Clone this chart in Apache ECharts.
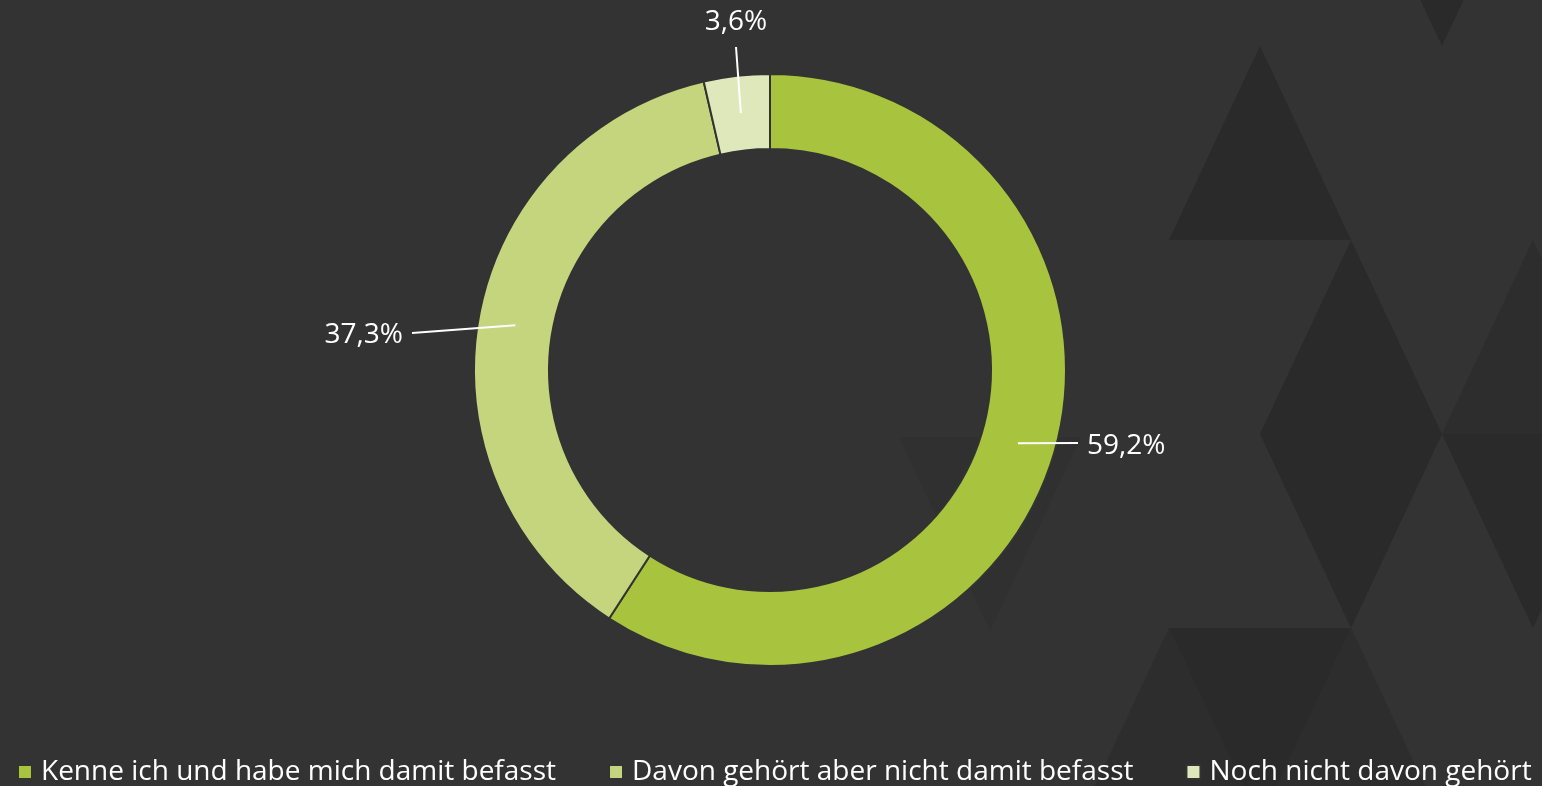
<!DOCTYPE html>
<html>
<head>
<meta charset="utf-8">
<script src="https://cdn.jsdelivr.net/npm/echarts@6/dist/echarts.min.js"></script>
<style>
  html, body { margin: 0; padding: 0; background: #333333; }
  #chart { width: 1542px; height: 786px; }
</style>
</head>
<body>
<div id="chart"></div>
<script>
// data
var categories = [
  "Kenne ich und habe mich damit befasst",
  "Davon gehört aber nicht damit befasst",
  "Noch nicht davon gehört"
];
var shares = [59.2, 37.3, 3.6];
var sliceColors = ["#A8C33D", "#C5D57D", "#DFE8BA"];

// ring geometry
var cx = 770, cy = 370, rIn = 221, rOut = 296;

// where each label sits (layout, not data)
var labelSpots = [
  { x: 1087, y: 446, align: "left",   end: [1078, 443] },
  { x: 403,  y: 335, align: "right",  end: [412, 333] },
  { x: 736,  y: 22,  align: "center", end: [736, 47] }
];

// background triangles (decoration only)
function tri(p, fill) {
  return { type: "polygon", silent: true, z: -10, shape: { points: p }, style: { fill: fill } };
}
var dark = "#292a29", mid = "#2c2d2c", faint = "#303030";

var total = shares.reduce(function (a, b) { return a + b; }, 0);
function midAngle(i) {
  var before = 0;
  for (var k = 0; k < i; k++) before += shares[k];
  return ((before + shares[i] / 2) / total) * Math.PI * 2; // clockwise from top
}

var pieData = categories.map(function (c, i) { return { name: c, value: shares[i] }; });

var chart = echarts.init(document.getElementById("chart"));
chart.setOption({
  backgroundColor: "#333333",
  textStyle: { fontFamily: "Open Sans" },
  graphic: [
    tri([[1169, 240], [1260, 46], [1351, 240]], dark),
    tri([[1351, -148], [1533, -148], [1442, 46]], dark),
    tri([[1260, 434], [1351, 240], [1442, 434]], dark),
    tri([[1260, 434], [1442, 434], [1351, 628]], dark),
    tri([[1442, 434], [1533, 240], [1624, 434]], mid),
    tri([[1442, 434], [1624, 434], [1533, 628]], dark),
    tri([[1169, 628], [1351, 628], [1260, 822]], dark),
    tri([[1078, 822], [1169, 628], [1260, 822]], mid),
    tri([[1260, 822], [1351, 628], [1442, 822]], mid),
    tri([[899, 437], [1081, 437], [990, 631]], faint)
  ],
  color: sliceColors,
  legend: {
    left: 12,
    bottom: -5,
    icon: "rect",
    itemWidth: 14,
    itemHeight: 14,
    itemGap: 52,
    textStyle: { color: "#ffffff", fontSize: 28, fontFamily: "Open Sans", padding: [0, 0, 0, 4] },
    data: categories
  },
  series: [{
    // the ring itself
    type: "pie",
    center: [cx, cy],
    radius: [rIn, rOut],
    startAngle: 90,
    clockwise: true,
    itemStyle: { borderColor: "#333333", borderWidth: 2 },
    label: { show: false },
    labelLine: { show: false },
    emphasis: { disabled: true },
    data: pieData
  }, {
    // same data again, invisible, only to carry labels and leader lines on top
    type: "pie",
    z: 5,
    silent: true,
    center: [cx, cy],
    radius: [rIn, rOut],
    startAngle: 90,
    clockwise: true,
    avoidLabelOverlap: false,
    itemStyle: { color: "rgba(0,0,0,0)", borderWidth: 0 },
    label: {
      show: true,
      position: "outside",
      color: "#ffffff",
      fontSize: 28,
      fontFamily: "Open Sans",
      formatter: function (p) { return p.value.toFixed(1).replace(".", ",") + "%"; }
    },
    labelLine: {
      show: true,
      lineStyle: { color: "#ffffff", width: 2 }
    },
    labelLayout: function (params) {
      var i = params.dataIndex;
      var s = labelSpots[i];
      var a = midAngle(i);
      var rm = (rIn + rOut) / 2;
      var start = [cx + rm * Math.sin(a), cy - rm * Math.cos(a)];
      return {
        x: s.x,
        y: s.y,
        align: s.align,
        verticalAlign: "middle",
        labelLinePoints: [start, s.end, s.end]
      };
    },
    emphasis: { disabled: true },
    data: pieData
  }]
});
</script>
</body>
</html>
